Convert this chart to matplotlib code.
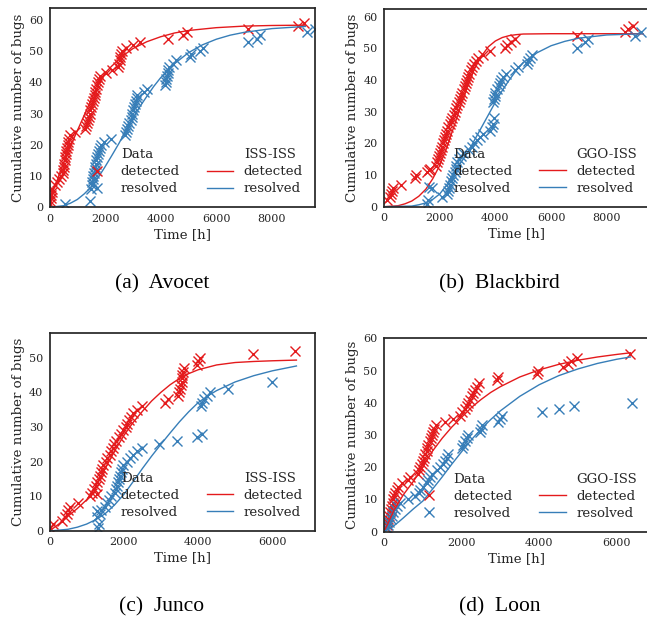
import matplotlib
matplotlib.use("Agg")
import matplotlib.pyplot as plt
from matplotlib.lines import Line2D

RED = "#e41a1c"
BLUE = "#377eb8"

# ---------------- (a) Avocet ----------------
a_det_t = [10, 25, 40, 55, 75, 100, 180, 260, 330, 420,
           470, 490, 510, 530, 550, 570, 590, 610, 630, 650, 680, 710, 750,
           900,
           1290, 1320, 1350, 1380, 1410, 1440, 1470, 1500, 1530, 1560, 1590, 1620, 1650, 1680, 1710, 1740, 1770, 1810,
           2050, 2250,
           2480, 2500, 2520, 2550, 2580, 2620,
           2750, 3000, 3250, 4250, 4800, 4950, 7150, 8950, 9150]
a_det_y = [1, 2, 3, 4, 5, 6, 7, 8, 9, 10,
           11, 12, 13, 14, 15, 16, 17, 18, 19, 20, 21, 22, 23,
           24,
           25, 26, 27, 28, 29, 30, 31, 32, 33, 34, 35, 36, 37, 38, 39, 40, 41, 42,
           43, 44,
           45, 46, 47, 48, 49, 50,
           51, 52, 53, 54, 55, 56, 57, 58, 59]
a_res_t = [560, 1445,
           1500, 1520, 1540, 1560, 1580, 1600, 1620, 1640, 1660, 1690, 1720, 1750, 1780, 1820, 1850,
           1960, 2200,
           2720, 2750, 2780, 2810, 2850,
           2920, 2950, 2980, 3010, 3040, 3070, 3100, 3130, 3160,
           3400, 3500, 4170,
           4180, 4200, 4220, 4250, 4280, 4310,
           4430, 4550, 5040, 5100, 5400, 5520,
           7150, 7450, 7570, 9270, 9560]
a_res_y = [1, 2,
           6, 7, 8, 9, 10, 11, 12, 13, 14, 15, 16, 17, 18, 19, 20,
           21, 22,
           23, 24, 25, 26, 27,
           28, 29, 30, 31, 32, 33, 34, 35, 36,
           37, 38, 39,
           40, 41, 42, 43, 44, 45,
           46, 47, 48, 49, 50, 51,
           53, 54, 55, 56, 57]
a_fit_det_t = [0, 25, 50, 100, 175, 250, 375, 500, 625, 750, 1000, 1250, 1500, 1750, 2000, 2250,
               2500, 2750, 3000, 3500, 4000, 4500, 5000, 6000, 7000, 8000, 9200]
a_fit_det_y = [0, 1.4, 2.5, 4.5, 6.4, 8, 11, 14, 17, 19.5, 24.5, 29.5, 34.5, 39, 43, 45.3,
               47.3, 49.2, 50.8, 53, 54.6, 55.8, 56.6, 57.5, 58, 58.2, 58.3]
a_fit_res_t = [0, 500, 750, 1000, 1250, 1500, 1750, 2000, 2250, 2500, 2750, 3000, 3250, 3500,
               3750, 4000, 4500, 5000, 5500, 6000, 6500, 7000, 8000, 9200]
a_fit_res_y = [0, 0.5, 1.3, 2.5, 4.3, 6.5, 9.5, 13, 16.7, 20.5, 24.6, 28.5, 32.2, 35.5,
               38.7, 41.5, 46, 49.5, 52, 53.8, 55.1, 56, 57.2, 57.9]

# ---------------- (b) Blackbird ----------------
b_det_t = [100, 200, 260, 300, 340, 600, 1110, 1150, 1530, 1650,
           1860, 1890, 1930, 1970, 2010, 2050, 2080, 2120, 2160, 2200, 2230, 2260,
           2310, 2360, 2410, 2460, 2510, 2550, 2600, 2640, 2690, 2740, 2780, 2820,
           2860, 2900, 2940, 2980, 3020, 3060, 3110, 3170, 3230, 3300, 3380,
           3570, 3800, 4350, 4420, 4580, 4700, 6920, 8650, 8780, 8960]
b_det_y = [2, 3, 4, 5, 6, 7, 9, 10, 11, 12,
           13, 14, 15, 16, 17, 18, 19, 20, 21, 22, 23, 24,
           25, 26, 27, 28, 29, 30, 31, 32, 33, 34, 35, 36,
           37, 38, 39, 40, 41, 42, 43, 44, 45, 46, 47,
           48, 49, 50, 51, 52, 53, 54, 55, 56, 57]
b_res_t = [1530, 1590, 1710, 2070, 2250,
           2300, 2330, 2360, 2400, 2440, 2480, 2540, 2570, 2600, 2640, 2700, 2760, 2850,
           3050, 3150, 3250, 3330, 3450, 3570, 3800, 3870, 3920, 3950,
           3930, 3950, 3980, 4000, 4060, 4120, 4165, 4220, 4285, 4400,
           4700, 4820, 5120, 5180, 5240, 5300, 6920, 7220, 7340, 9010, 9250]
b_res_y = [1, 2, 6, 3, 4,
           5, 6, 7, 8, 9, 10, 11, 12, 13, 14, 15, 16, 17,
           18, 19, 20, 21, 22, 23, 24, 25, 26, 28,
           33, 34, 35, 36, 37, 38, 39, 40, 41, 42,
           43, 44, 45, 46, 47, 48, 50, 52, 53, 54, 55]
b_fit_det_t = [0, 500, 750, 1000, 1250, 1500, 1750, 2000, 2250, 2500, 2750, 3000, 3250, 3500,
               3750, 4000, 4250, 4500, 4750, 5000, 6000, 9300]
b_fit_det_y = [0, 0.3, 0.9, 1.8, 3.3, 5.5, 8.8, 13, 18.5, 25, 31.5, 38, 43.5, 47.5,
               50.5, 52.3, 53.4, 54, 54.3, 54.5, 54.6, 54.6]
b_fit_res_t = [0, 1000, 1250, 1500, 1750, 2000, 2250, 2500, 2750, 3000, 3250, 3500, 3750, 4000,
               4250, 4500, 4750, 5000, 5500, 6000, 6500, 7000, 8000, 9300]
b_fit_res_y = [0, 0.2, 0.6, 1.2, 2.3, 4, 6.8, 10.5, 13.8, 17, 21, 25, 29, 33,
               36.7, 40, 43, 45.5, 48.6, 50.8, 52.2, 53.2, 54.2, 54.6]

# ---------------- (c) Junco ----------------
c_det_t = [10, 100, 330, 420, 460, 510, 550, 780, 1090, 1140, 1200, 1250, 1280, 1330, 1360,
           1390, 1420, 1450, 1520, 1560, 1620, 1660, 1700, 1740, 1800, 1860, 1920, 1980,
           2050, 2100, 2150, 2200, 2250, 2350, 2480, 3110, 3200, 3470, 3500, 3520, 3540,
           3560, 3570, 3580, 3600, 3620, 3970, 4010, 4040, 5490, 6620]
c_det_y = [1, 2, 3, 4, 5, 6, 7, 8, 10, 11, 12, 13, 14, 15, 16,
           17, 18, 19, 20, 21, 22, 23, 24, 25, 26, 27, 28, 29,
           30, 31, 32, 33, 34, 35, 36, 37, 38, 39, 40, 41, 42,
           43, 44, 45, 46, 47, 48, 49, 50, 51, 52]
c_res_t = [1310, 1320, 1290, 1350, 1400, 1500, 1540, 1590, 1650, 1770, 1790, 1810, 1840,
           1860, 1900, 1920, 1945, 1990, 2080, 2170, 2260, 2350, 2480, 2960, 3430,
           3970, 4100, 4085, 4120, 4160, 4240, 4330, 4800, 5990]
c_res_y = [1, 2, 4, 5, 6, 7, 8, 9, 10, 11, 12, 13, 14,
           15, 16, 17, 18, 19, 20, 21, 22, 23, 24, 25, 26,
           27, 28, 36, 37, 38, 39, 40, 41, 43]
c_fit_det_t = [0, 250, 500, 750, 1000, 1250, 1500, 1750, 2000, 2250, 2500, 2750, 3000, 3250,
               3500, 3750, 4000, 4500, 5000, 5500, 6000, 6650]
c_fit_det_y = [0, 2, 4.3, 6.5, 9, 13, 18, 23, 27.5, 31.3, 34.5, 37.5, 40, 42.2,
               44, 45.4, 46.5, 47.9, 48.6, 48.9, 49.1, 49.3]
c_fit_res_t = [0, 500, 750, 1000, 1250, 1500, 1750, 2000, 2250, 2500, 2750, 3000, 3250, 3500,
               3750, 4000, 4250, 4500, 5000, 5500, 6000, 6650]
c_fit_res_y = [0, 0.5, 1.1, 2, 3.3, 5, 7.5, 10.5, 14.2, 18, 21.6, 25, 28.3, 31.5,
               34.4, 37, 38.9, 40.5, 43, 44.8, 46.2, 47.6]

# ---------------- (d) Loon ----------------
d_det_t = [50, 70, 90, 110, 130, 155, 180, 200, 220, 240, 265, 285, 325, 370, 455, 630, 670,
           885, 910, 930, 970, 1015, 1040, 1060, 1100, 1120, 1145, 1185, 1210, 1230, 1270, 1300, 1330,
           1580, 1790, 1960, 2000, 2090, 2130, 2175, 2220, 2260, 2300, 2350, 2400, 2450,
           2900, 2950, 3940, 3980, 4625, 4755, 4815, 4970, 6345]
d_det_y = [1, 2, 3, 4, 5, 6, 7, 8, 9, 10, 11, 12, 13, 14, 15, 16, 17,
           18, 19, 20, 21, 22, 23, 24, 25, 26, 27, 28, 29, 30, 31, 32, 33,
           34, 35, 36, 37, 38, 39, 40, 41, 42, 43, 44, 45, 46,
           47, 48, 49, 50, 51, 52, 53, 54, 55]
d_res_t = [70, 110, 140, 170, 200, 240, 285, 325, 410, 630, 800, 900, 930, 1015, 1100, 1140,
           1185, 1230, 1360, 1445, 1530, 1575, 1615, 1660, 2000, 2045, 2090, 2130, 2175,
           2475, 2500, 2520, 2950, 2990, 3035, 4065, 4500, 4885, 6390]
d_res_y = [1, 2, 3, 4, 5, 6, 7, 8, 9, 10, 11, 12, 13, 14, 15, 16,
           17, 18, 19, 20, 21, 22, 23, 24, 26, 27, 28, 29, 30,
           31, 32, 33, 34, 35, 36, 37, 38, 39, 40]
d_fit_det_t = [0, 50, 100, 175, 250, 375, 500, 750, 1000, 1250, 1500, 1750, 2000, 2250, 2500,
               2750, 3000, 3500, 4000, 4500, 5000, 5500, 6000, 6350]
d_fit_det_y = [0, 1.3, 2.5, 4.5, 6.5, 9, 11.5, 15.5, 20, 25, 29, 32.5, 35.5, 38.5, 41,
               43.2, 45, 48, 50.2, 51.9, 53.2, 54.2, 55, 55.5]
d_fit_res_t = [0, 125, 250, 375, 500, 750, 1000, 1250, 1500, 1750, 2000, 2250, 2500, 2750,
               3000, 3500, 4000, 4500, 5000, 5500, 6000, 6350]
d_fit_res_y = [0, 0.8, 1.8, 3, 4.3, 7, 9.5, 13.2, 17, 21, 24.8, 28.5, 31.8, 34.8,
               37.5, 42, 45.6, 48.4, 50.5, 52.2, 53.5, 54.2]

model_names = ["ISS-ISS", "GGO-ISS", "ISS-ISS", "GGO-ISS"]
captions = ["(a)  Avocet", "(b)  Blackbird", "(c)  Junco", "(d)  Loon"]
x_ticks = [[0, 2000, 4000, 6000, 8000], [0, 2000, 4000, 6000, 8000],
           [0, 2000, 4000, 6000], [0, 2000, 4000, 6000]]
y_ticks = [[0, 10, 20, 30, 40, 50, 60], [0, 10, 20, 30, 40, 50, 60],
           [0, 10, 20, 30, 40, 50], [0, 10, 20, 30, 40, 50, 60]]
x_max = [9550, 9520, 7150, 6830]
y_max = [63.7, 62.4, 57.2, 60]

panels = [
    (a_det_t, a_det_y, a_res_t, a_res_y, a_fit_det_t, a_fit_det_y, a_fit_res_t, a_fit_res_y),
    (b_det_t, b_det_y, b_res_t, b_res_y, b_fit_det_t, b_fit_det_y, b_fit_res_t, b_fit_res_y),
    (c_det_t, c_det_y, c_res_t, c_res_y, c_fit_det_t, c_fit_det_y, c_fit_res_t, c_fit_res_y),
    (d_det_t, d_det_y, d_res_t, d_res_y, d_fit_det_t, d_fit_det_y, d_fit_res_t, d_fit_res_y),
]

plt.rcParams.update({
    "font.family": ["DejaVu Serif"],
    "axes.edgecolor": "#262626",
    "axes.linewidth": 1.25,
    "xtick.color": "#262626",
    "ytick.color": "#262626",
    "axes.labelcolor": "#262626",
    "text.color": "#262626",
})

W, H = 647, 620
fig = plt.figure(figsize=(W / 100, H / 100), dpi=100)
fig.patch.set_facecolor("white")

# pixel boxes: left, right, top, bottom
boxes = [(49.5, 315, 8.3, 207.3), (384, 649, 9, 206.7),
         (49.5, 315, 332.7, 531), (384, 649, 338.3, 531.7)]
cap_pos = [(162, 284), (499, 284), (162, 607), (500, 607)]

ms = 6.5
mew = 1.0
for i, (dt, dy, rt, ry, fdt, fdy, frt, fry) in enumerate(panels):
    l, r, t, b = boxes[i]
    ax = fig.add_axes([l / W, 1 - b / H, (r - l) / W, (b - t) / H])
    ax.plot(dt, dy, linestyle="none", marker="x", color=RED, ms=ms, mew=mew)
    ax.plot(rt, ry, linestyle="none", marker="x", color=BLUE, ms=ms, mew=mew)
    ax.plot(fdt, fdy, color=RED, lw=1.0)
    ax.plot(frt, fry, color=BLUE, lw=1.0)
    ax.set_xlim(0, x_max[i])
    ax.set_ylim(0, y_max[i])
    ax.set_xticks(x_ticks[i])
    ax.set_yticks(y_ticks[i])
    ax.tick_params(length=0, labelsize=8, pad=4.5)
    ax.set_xlabel("Time [h]", fontsize=9.6, labelpad=3)
    ax.set_ylabel("Cumulative number of bugs", fontsize=9.6, labelpad=3)

    blank = Line2D([], [], linestyle="none")
    h_det_m = Line2D([], [], linestyle="none", marker="x", color=RED, ms=ms, mew=mew)
    h_res_m = Line2D([], [], linestyle="none", marker="x", color=BLUE, ms=ms, mew=mew)
    h_det_l = Line2D([], [], color=RED, lw=1.0)
    h_res_l = Line2D([], [], color=BLUE, lw=1.0)
    ax.legend([blank, h_det_m, h_res_m, blank, h_det_l, h_res_l],
              ["Data", "detected", "resolved", model_names[i], "detected", "resolved"],
              ncol=2, loc="lower right", frameon=False, fontsize=9.6,
              labelspacing=0.3, handlelength=2.0, handletextpad=0.8,
              columnspacing=2.0)

    cx, cy = cap_pos[i]
    fig.text(cx / W, 1 - cy / H, captions[i], ha="center", va="center",
             fontsize=15.5, family="Liberation Serif", color="black")

fig.savefig("out.png", dpi=100, facecolor="white")
